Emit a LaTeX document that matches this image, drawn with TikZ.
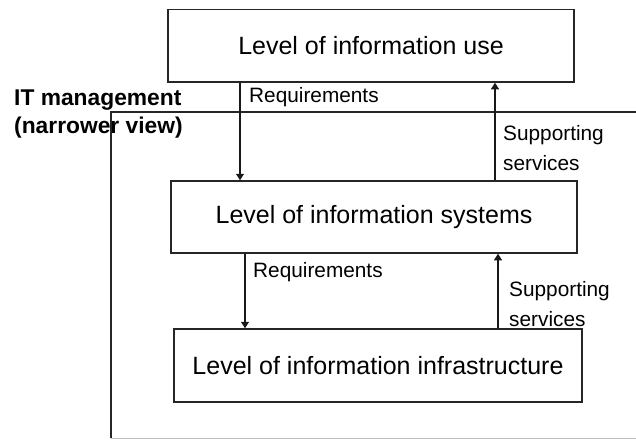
\documentclass[tikz,border=0pt]{standalone}
\usepackage{fontspec}
\setmainfont{Liberation Sans}
\usetikzlibrary{arrows.meta}
\begin{document}
\begin{tikzpicture}[x=1pt,y=-1pt,
  level/.style={draw=black!85,line width=1.5pt,rectangle,inner sep=0pt,
    font=\fontsize{25}{29}\selectfont},
  lbl/.style={anchor=west,align=left,inner sep=0pt,font=\fontsize{20.8}{30}\selectfont},
  arr/.style={draw=black!90,line width=1.2pt,-{Triangle[width=8pt,length=6.5pt]}},
  frameline/.style={draw=black!85,line width=1.5pt}]
\useasboundingbox (0,0) rectangle (636,439);
\fill[white] (0,0) rectangle (636,439);
% title
\node[anchor=west,align=left,inner sep=0pt,font=\bfseries\fontsize{22.8}{28}\selectfont] (title) at (14,114) {IT management\\(narrower view)};
% frame
\coordinate (ftr) at (636,112);
\coordinate (ftl) at (111,112);
\coordinate (fbl) at (111,438);
\coordinate (fbr) at (636,438);
\draw[frameline] (ftr) -- (ftl) -- (fbl);
\draw[draw=black!25,line width=1pt] (fbl) -- (fbr);
% boxes
\node[level,minimum width=406pt,minimum height=72.5pt] (use) at (371,45.75) {Level of information use};
\node[level,minimum width=406pt,minimum height=72pt] (sys) at (374,217) {Level of information systems};
\node[level,minimum width=408pt,minimum height=73pt] (infra) at (378,365.5) {Level of information infrastructure};
% arrows
\coordinate (xa) at (240,0);
\coordinate (xb) at (495,0);
\coordinate (xc) at (245,0);
\coordinate (xd) at (498,0);
\draw[arr] (use.south -| xa) -- (sys.north -| xa);
\draw[arr] (sys.north -| xb) -- (use.south -| xb);
\draw[arr] (sys.south -| xc) -- (infra.north -| xc);
\draw[arr] (infra.north -| xd) -- (sys.south -| xd);
% labels
\node[lbl] (req1) at (249,97) {Requirements};
\node[lbl] (sup1) at (503,148) {Supporting\\services};
\node[lbl] (req2) at (253,272) {Requirements};
\node[lbl] (sup2) at (509,304) {Supporting\\services};
\end{tikzpicture}
\end{document}
